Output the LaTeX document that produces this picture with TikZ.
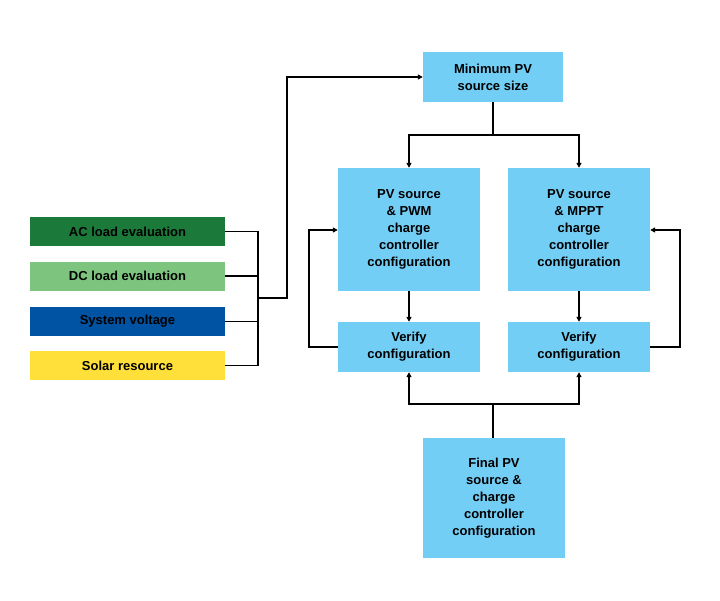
\documentclass[tikz,border=0pt]{standalone}
\usepackage{fontspec}
\setmainfont{Liberation Sans}
\usetikzlibrary{positioning,arrows.meta}
\definecolor{boxblue}{HTML}{73CEF5}
\definecolor{acgreen}{HTML}{1B7A3A}
\definecolor{dcgreen}{HTML}{7DC47F}
\definecolor{sysblue}{HTML}{0052A2}
\definecolor{solaryellow}{HTML}{FFE03A}
\tikzset{
  stage/.style={fill=boxblue, align=center, font=\bfseries\fontsize{13}{17}\selectfont, inner sep=0pt},
  input/.style={minimum width=195pt, minimum height=29pt, inner sep=0pt, font=\bfseries\fontsize{13}{16}\selectfont},
  link/.style={line width=1.6pt},
  flow/.style={link, -{Triangle[length=5pt,width=5pt]}}
}
\begin{document}
\begin{tikzpicture}[x=1pt,y=-1pt]
    \useasboundingbox (0,0) rectangle (720,600);
    % inputs
    \node[input, fill=acgreen] (ac) at (127.5,231.5) {AC load evaluation};
    \node[input, fill=dcgreen] (dc) at (127.5,276) {DC load evaluation};
    \node[input, fill=sysblue] (sys) at (127.5,321.5) {System voltage};
    \node[input, fill=solaryellow] (sol) at (127.5,365.5) {Solar resource};

    % stages
    \node[stage, minimum width=140pt, minimum height=50pt] (min) at (493,77) {Minimum PV\\source size};
    \node[stage, minimum width=142pt, minimum height=123pt] (pwm) at (409,229.5) {PV source\\\& PWM\\charge\\controller\\configuration};
    \node[stage, minimum width=142pt, minimum height=123pt] (mppt) at (579,229.5) {PV source\\\& MPPT\\charge\\controller\\configuration};
    \node[stage, minimum width=142pt, minimum height=50pt] (verl) at (409,347) {Verify\\configuration};
    \node[stage, minimum width=142pt, minimum height=50pt] (verr) at (579,347) {Verify\\configuration};
    \node[stage, minimum width=142pt, minimum height=120pt] (final) at (494,498) {Final PV\\source \&\\charge\\controller\\configuration};

    \coordinate (bus) at (258,298);
    \coordinate (split) at (493,135);
    \coordinate (join) at (493,404);

    % inputs to minimum size
    \draw[link] (ac.east) -| (258,365.5);
    \draw[link] (dc.east) -- (258,276);
    \draw[link] (sys.east) -- (258,321.5);
    \draw[link] (sol.east) -- (258,365.5);
    \draw[flow] (bus) -| (287,77) -- (min.west);

    % split
    \draw[link] (min.south -| split) -- (split);
    \draw[flow] (split) -| (pwm.north);
    \draw[flow] (split) -| (mppt.north);
    \draw[flow] (pwm) -- (verl);
    \draw[flow] (mppt) -- (verr);

    % loops back
    \draw[flow] (verl.west) -| (309,230) -- (pwm.west |- 0,230);
    \draw[flow] (verr.east) -| (680,230) -- (mppt.east |- 0,230);

    % final
    \draw[link] (final.north -| join) -- (join);
    \draw[flow] (join) -| (verl.south);
    \draw[flow] (join) -| (verr.south);
\end{tikzpicture}
\end{document}
